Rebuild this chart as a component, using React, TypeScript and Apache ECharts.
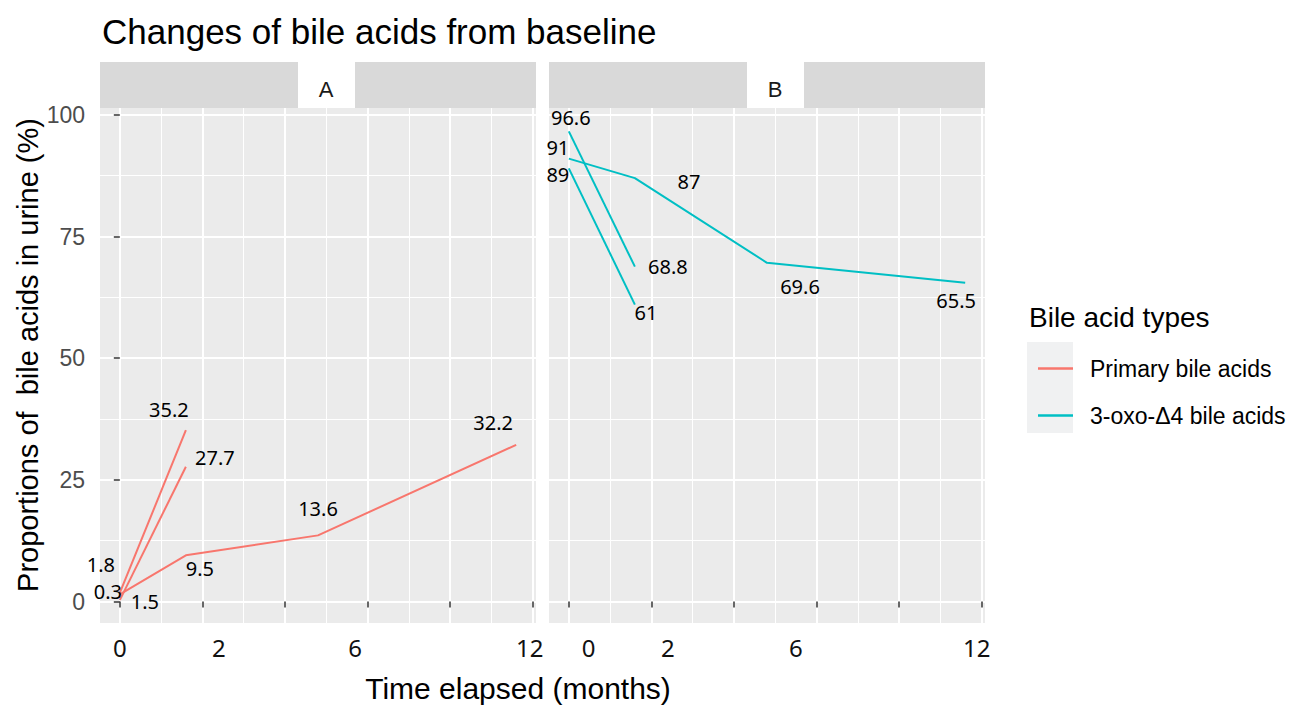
import React, { useEffect, useRef } from "react";
import * as echarts from "echarts";

// ---- data ----
const panels = ["A", "B"];
const seriesNames = ["Primary bile acids", "3-oxo-Δ4 bile acids"];
const seriesColors = ["#F8766D", "#00BFC4"];

// time (months) for each subject line
const lineTimes = [
  [0, 1.6],
  [0, 1.6],
  [0, 1.6, 4.8, 9.6],
];
const primaryValues = [
  [1.8, 35.2],
  [0.3, 27.7],
  [1.5, 9.5, 13.6, 32.2],
];
const oxoValues = [
  [96.6, 68.8],
  [89, 61],
  [91, 87, 69.6, 65.5],
];

const xTickValues = [0, 2, 4, 6, 8, 10];
const xMinorValues = [1, 3, 5, 7, 9];
const xTickLabels = ["0", "2", "6", "12"];
const xLabelPosA = [0, 2.4, 5.7, 9.93];
const xLabelPosB = [0.48, 2.4, 5.5, 9.88];
const yTickValues = [0, 25, 50, 75, 100];
const yMinorValues = [12.5, 37.5, 62.5, 87.5];

// label offsets (styling) in px, per point
const primaryLabelOffsets = [
  [[-19, -28], [-17, -21]],
  [[-12, -9], [29, -9]],
  [[25, 7], [14, 13], [0, -27], [-23, -22]],
];
const oxoLabelOffsets = [
  [[2, -14], [33, 0]],
  [[-11, 6], [11, 8]],
  [[-11, -11], [54, 3], [33, 24], [-9, 18]],
];

const X_MIN = -0.48;
const X_MAX = 10.08;
const Y_MIN = -4.4;
const Y_MAX = 101.4;

const grids = [
  { left: 100, top: 108, width: 436, height: 515 },
  { left: 549, top: 108, width: 436, height: 515 },
];

export default function App() {
  const ref = useRef<HTMLDivElement>(null);
  useEffect(() => {
    if (!ref.current) return;
    const chart = echarts.init(ref.current, null, { renderer: "svg" });

    const xAxes: any[] = [];
    const yAxes: any[] = [];
    grids.forEach((_, gi) => {
      const labelPos = gi === 0 ? xLabelPosA : xLabelPosB;
      xAxes.push({
        type: "value",
        gridIndex: gi,
        min: X_MIN,
        max: X_MAX,
        axisLine: { show: false },
        axisTick: { show: true, customValues: xTickValues, length: 6, lineStyle: { color: "#333333", width: 1.5 } },
        axisLabel: {
          customValues: labelPos,
          formatter: (v: number) => {
            const i = labelPos.findIndex((p) => Math.abs(p - v) < 1e-6);
            return i >= 0 ? xTickLabels[i] : "";
          },
          color: "#111111",
          fontFamily: "Noto Sans",
          fontSize: 24,
          margin: 12,
        },
        splitLine: { show: true, lineStyle: { color: "#FFFFFF", width: 2 } },
      });
      xAxes.push({
        type: "value",
        gridIndex: gi,
        min: X_MIN,
        max: X_MAX,
        axisLine: { show: false },
        axisTick: { show: false, customValues: xMinorValues },
        axisLabel: { show: false },
        splitLine: { show: true, lineStyle: { color: "#FFFFFF", width: 1 } },
      });
      yAxes.push({
        type: "value",
        gridIndex: gi,
        min: Y_MIN,
        max: Y_MAX,
        axisLine: { show: false },
        axisTick: { show: gi === 0, customValues: yTickValues, length: 6, lineStyle: { color: "#333333", width: 1.5 } },
        axisLabel: {
          show: gi === 0,
          customValues: yTickValues,
          color: "#4D4D4D",
          fontFamily: "Liberation Sans",
          fontSize: 23,
          margin: 15,
        },
        splitLine: { show: true, lineStyle: { color: "#FFFFFF", width: 2 } },
      });
      yAxes.push({
        type: "value",
        gridIndex: gi,
        min: Y_MIN,
        max: Y_MAX,
        axisLine: { show: false },
        axisTick: { show: false, customValues: yMinorValues },
        axisLabel: { show: false },
        splitLine: { show: true, lineStyle: { color: "#FFFFFF", width: 1 } },
      });
    });

    const series: any[] = [];
    const addPanel = (values: number[][], offsets: number[][][], gi: number, si: number) => {
      values.forEach((vals, li) => {
        series.push({
          type: "line",
          name: seriesNames[si],
          xAxisIndex: gi * 2,
          yAxisIndex: gi * 2,
          color: seriesColors[si],
          showSymbol: true,
          symbol: "circle",
          symbolSize: 0,
          lineStyle: { width: 2, color: seriesColors[si] },
          itemStyle: { color: seriesColors[si] },
          data: vals.map((v, pi) => ({
            value: [lineTimes[li][pi], v],
            label: { offset: offsets[li][pi] },
          })),
          label: {
            show: true,
            position: "inside",
            formatter: (p: any) => String(p.value[1]),
            color: "#000000",
            fontFamily: "Noto Sans",
            fontSize: 20,
            lineHeight: 20,
          },
          emphasis: { disabled: true },
          z: 3,
        });
      });
    };
    addPanel(primaryValues, primaryLabelOffsets, 0, 0);
    addPanel(oxoValues, oxoLabelOffsets, 1, 1);

    const graphics: any[] = [];
    grids.forEach((g, gi) => {
      graphics.push({
        type: "rect",
        shape: { x: g.left, y: 62, width: g.width, height: 46 },
        style: { fill: "#D9D9D9" },
        silent: true,
      });
      const cx = g.left + g.width / 2 + 8;
      graphics.push({
        type: "rect",
        shape: { x: cx - 28, y: 62, width: 57, height: 46 },
        style: { fill: "#FFFFFF" },
        silent: true,
      });
      graphics.push({
        type: "text",
        x: cx,
        y: 89,
        style: {
          text: panels[gi],
          fill: "#1A1A1A",
          font: "22px 'Liberation Sans'",
          textAlign: "center",
          textVerticalAlign: "middle",
        },
        silent: true,
      });
    });
    graphics.push({
      type: "text",
      x: 28,
      y: 355,
      rotation: Math.PI / 2,
      style: {
        text: "Proportions of  bile acids in urine (%)",
        fill: "#000000",
        font: "29px 'Liberation Sans'",
        textAlign: "center",
        textVerticalAlign: "middle",
      },
      silent: true,
    });
    graphics.push({
      type: "text",
      x: 518,
      y: 688,
      style: {
        text: "Time elapsed (months)",
        fill: "#000000",
        font: "30px 'Liberation Sans'",
        textAlign: "center",
        textVerticalAlign: "middle",
      },
      silent: true,
    });
    graphics.push({
      type: "text",
      x: 1029,
      y: 317,
      style: {
        text: "Bile acid types",
        fill: "#000000",
        font: "28px 'Liberation Sans'",
        textAlign: "left",
        textVerticalAlign: "middle",
      },
      silent: true,
    });
    graphics.push({
      type: "rect",
      shape: { x: 1027, y: 342, width: 46, height: 91 },
      style: { fill: "#F0F1F2" },
      silent: true,
      z: -1,
    });

    chart.setOption({
      animation: false,
      backgroundColor: "#FFFFFF",
      title: {
        text: "Changes of bile acids from baseline",
        left: 97,
        top: 9,
        textStyle: { fontFamily: "Liberation Sans", fontSize: 35, fontWeight: "normal", color: "#000000" },
      },
      grid: grids.map((g) => ({
        ...g,
        show: true,
        backgroundColor: "#EBEBEB",
        borderWidth: 0,
        containLabel: false,
        outerBoundsMode: "none",
      })),
      xAxis: xAxes,
      yAxis: yAxes,
      legend: {
        data: seriesNames,
        orient: "vertical",
        left: 1033,
        top: 352,
        itemWidth: 35,
        itemHeight: 20,
        itemGap: 24,
        icon: "path://M0,9 L35,9 L35,11.5 L0,11.5 Z",
        textStyle: { fontFamily: "Liberation Sans", fontSize: 23, color: "#000000", padding: [0, 0, 0, 12] },
        selectedMode: false,
      },
      graphic: graphics,
      series,
    });
    return () => chart.dispose();
  }, []);
  return <div ref={ref} style={{ width: 1298, height: 705, position: "absolute", left: 0, top: 0 }} />;
}
